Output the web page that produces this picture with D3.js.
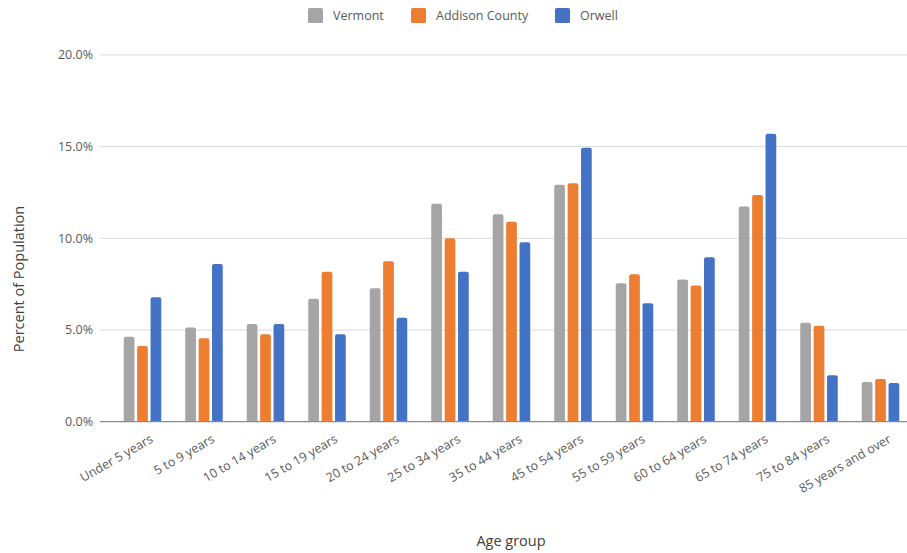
<!DOCTYPE html>
<html><head><meta charset="utf-8">
<script src="https://cdn.jsdelivr.net/npm/d3@7"></script>
<style>body{margin:0;background:#fff}svg{display:block;font-family:"Open Sans",sans-serif}</style>
</head><body><svg id="c" width="907" height="553"></svg>
<script>
const categories = ["Under 5 years","5 to 9 years","10 to 14 years","15 to 19 years","20 to 24 years","25 to 34 years","35 to 44 years","45 to 54 years","55 to 59 years","60 to 64 years","65 to 74 years","75 to 84 years","85 years and over"];
const seriesNames = ["Vermont","Addison County","Orwell"];
const vermont = [4.63,5.13,5.33,6.71,7.27,11.89,11.31,12.92,7.55,7.76,11.74,5.40,2.16];
const addison = [4.13,4.55,4.77,8.18,8.75,10.0,10.9,13.0,8.04,7.42,12.36,5.23,2.33];
const orwell = [6.78,8.60,5.33,4.77,5.67,8.18,9.78,14.94,6.46,8.96,15.7,2.53,2.11];
const yTicks = [0,5,10,15,20];
const colors = ["#A5A5A5","#ED7D31","#4472C4"];
const seriesVals = [vermont, addison, orwell];

const svg = d3.select("#c");
const y = d3.scaleLinear().domain([0,20]).range([421.7,54.9]);
const x0 = d3.scaleBand().domain(categories).range([111.75,911.25]).padding(0);
const x1 = d3.scaleBand().domain(seriesNames).range([0,37.5]).paddingInner(0.2).paddingOuter(0);
const groupOff = (x0.bandwidth()-37.5)/2;

// gridlines
svg.append("g").selectAll("line").data(yTicks.filter(d=>d>0)).join("line")
  .attr("x1",100).attr("x2",907).attr("y1",d=>y(d)).attr("y2",d=>y(d))
  .attr("stroke","#d9d9d9").attr("stroke-width",1);

// y labels
svg.append("g").selectAll("text").data(yTicks).join("text")
  .attr("x",93).attr("y",d=>y(d)).attr("dy","0.35em").attr("text-anchor","end")
  .attr("font-size",12.5).attr("fill","#595959").text(d=>d.toFixed(1)+"%");

// bars
function topRounded(x, yTop, w, h, r){
  r = Math.min(r, h);
  return `M${x},${yTop+h}V${yTop+r}Q${x},${yTop} ${x+r},${yTop}H${x+w-r}Q${x+w},${yTop} ${x+w},${yTop+r}V${yTop+h}Z`;
}
const g = svg.append("g");
categories.forEach((cat,i)=>{
  seriesNames.forEach((s,j)=>{
    const v = seriesVals[j][i];
    const bx = x0(cat)+groupOff+x1(s);
    g.append("path").attr("d", topRounded(bx, y(v), x1.bandwidth(), y(0)-y(v), 2))
      .attr("fill", colors[j]);
  });
});

// baseline
svg.append("line").attr("x1",100).attr("x2",907).attr("y1",y(0)).attr("y2",y(0))
  .attr("stroke","#8c8c8c").attr("stroke-width",1.2);

// x labels
svg.append("g").selectAll("text").data(categories).join("text")
  .attr("transform",d=>`translate(${x0(d)+x0.bandwidth()/2+7},${434}) rotate(-30)`)
  .attr("text-anchor","end").attr("dy","0.7em").attr("font-size",12.5).attr("fill","#595959").text(d=>d);

// axis titles
svg.append("text").attr("x",511).attr("y",546).attr("text-anchor","middle")
  .attr("font-size",14.5).attr("fill","#404040").text("Age group");
svg.append("text").attr("transform","translate(24,279) rotate(-90)").attr("text-anchor","middle")
  .attr("font-size",14.5).attr("fill","#404040").text("Percent of Population");

// legend
const legX = [308, 411, 555];
const lg = svg.append("g");
seriesNames.forEach((s,j)=>{
  lg.append("rect").attr("x",legX[j]).attr("y",8).attr("width",15).attr("height",15).attr("rx",1.5).attr("fill",colors[j]);
  lg.append("text").attr("x",legX[j]+25).attr("y",16).attr("dy","0.35em")
    .attr("font-size",12.5).attr("fill","#595959").text(s);
});
</script></body></html>
